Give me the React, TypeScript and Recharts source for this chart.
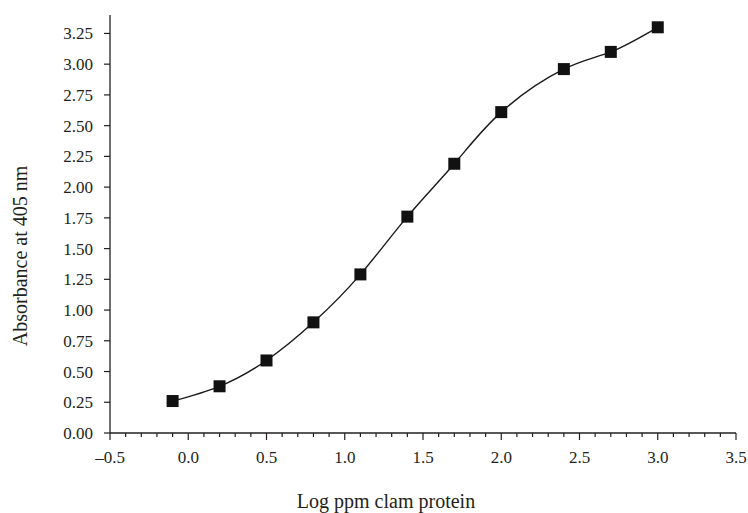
import React from "react";
import { ComposedChart, Line, XAxis, YAxis, Label } from "recharts";

// Log ppm clam protein vs. absorbance at 405 nm
const logPpm = [-0.1, 0.2, 0.5, 0.8, 1.1, 1.4, 1.7, 2.0, 2.4, 2.7, 3.0];
const absorbance = [0.26, 0.38, 0.59, 0.9, 1.29, 1.76, 2.19, 2.61, 2.96, 3.1, 3.3];

const xMajorTicks = [-0.5, 0, 0.5, 1, 1.5, 2, 2.5, 3, 3.5];
const xMinorTicks = Array.from({ length: 41 }, (_, i) => Math.round((-0.5 + i * 0.1) * 10) / 10);
const yTicks = [0, 0.25, 0.5, 0.75, 1, 1.25, 1.5, 1.75, 2, 2.25, 2.5, 2.75, 3, 3.25];

const data = logPpm.map((x, i) => ({ x, y: absorbance[i] }));

const INK = "#231f20";
const FONT = "'Liberation Serif', 'Times New Roman', serif";

function formatX(v: number) {
  const s = Math.abs(v).toFixed(1);
  return v < 0 ? "\u2013" + s : s;
}

function XTick(props: any) {
  const { x, y, payload } = props;
  const v = payload.value as number;
  const major = xMajorTicks.some((m) => Math.abs(m - v) < 1e-6);
  return (
    <g>
      <line x1={x} y1={y} x2={x} y2={y + (major ? 7 : 4)} stroke={INK} strokeWidth={1.2} />
      {major ? (
        <text x={x} y={y + 30} textAnchor="middle" fontFamily={FONT} fontSize={17} fill={INK}>
          {formatX(v)}
        </text>
      ) : null}
    </g>
  );
}

function SquareDot(props: any) {
  const { cx, cy, index } = props;
  if (cx == null || cy == null) return <g key={index} />;
  return <rect key={index} x={cx - 6} y={cy - 6} width={12} height={12} fill="#111" />;
}

export default function App() {
  return (
    <div style={{ position: "absolute", left: 0, top: 0, background: "#fff" }}>
      <ComposedChart
        width={748}
        height={513}
        data={data}
        margin={{ top: 15, right: 12, bottom: 0, left: 0 }}
      >
        <XAxis
          type="number"
          dataKey="x"
          domain={[-0.5, 3.5]}
          ticks={xMinorTicks}
          interval={0}
          tick={<XTick />}
          tickLine={false}
          tickSize={0}
          tickMargin={0}
          axisLine={{ stroke: INK, strokeWidth: 1.3 }}
          height={80}
        >
          <Label
            content={() => (
              <text x={386} y={508} textAnchor="middle" fontFamily={FONT} fontSize={20} fill={INK}>
                Log ppm clam protein
              </text>
            )}
          />
        </XAxis>
        <YAxis
          type="number"
          domain={[0, 3.4]}
          ticks={yTicks}
          interval={0}
          width={110}
          tickSize={6}
          tickMargin={11}
          tickFormatter={(v: number) => v.toFixed(2)}
          tick={{ fontFamily: FONT, fontSize: 17, fill: INK }}
          tickLine={{ stroke: INK, strokeWidth: 1.2 }}
          axisLine={{ stroke: INK, strokeWidth: 1.3 }}
        >
          <Label
            content={() => (
              <text
                x={27}
                y={256}
                transform="rotate(-90 27 256)"
                textAnchor="middle"
                fontFamily={FONT}
                fontSize={20}
                fill={INK}
              >
                Absorbance at 405 nm
              </text>
            )}
          />
        </YAxis>
        <Line
          type="natural"
          dataKey="y"
          stroke="#1a1a1a"
          strokeWidth={1.4}
          dot={<SquareDot />}
          activeDot={false}
          isAnimationActive={false}
        />
      </ComposedChart>
    </div>
  );
}
